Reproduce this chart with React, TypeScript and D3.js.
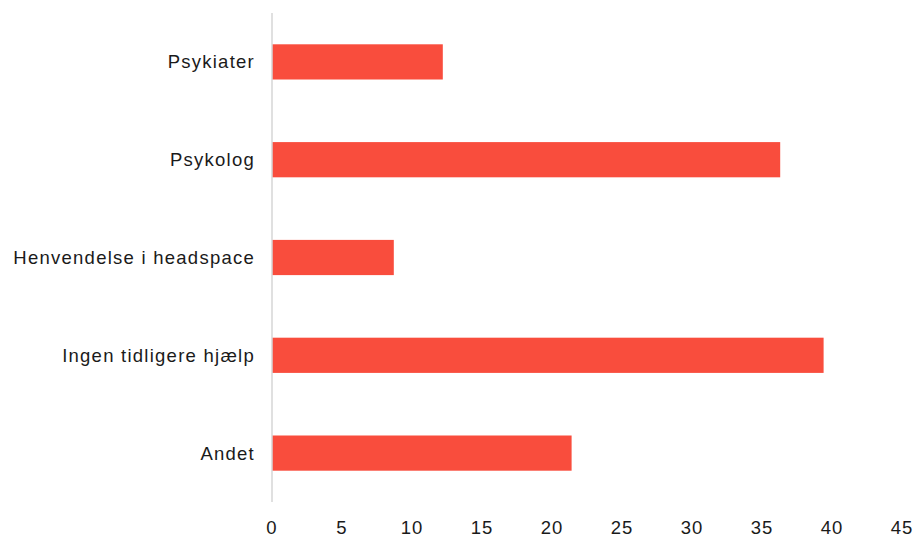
import React from "react";
import * as d3 from "d3";

const categories = ["Psykiater", "Psykolog", "Henvendelse i headspace", "Ingen tidligere hjælp", "Andet"];
const values = [12.2, 36.3, 8.7, 39.4, 21.4];
const xTicks = [0, 5, 10, 15, 20, 25, 30, 35, 40, 45];

const W = 916;
const H = 536;
const left = 272;
const right = 902;
const top = 13;
const bottom = 502;

export default function App() {
  const x = d3.scaleLinear().domain([0, 45]).range([left, right]);
  const y = d3
    .scaleBand<string>()
    .domain(categories)
    .range([top, bottom])
    .paddingInner(0.64)
    .paddingOuter(0.32);
  const font = "'Liberation Sans', Arial, sans-serif";
  return (
    <svg width={W} height={H} style={{ position: "absolute", left: 0, top: 0, background: "#fff" }}>
      {categories.map((c, i) => (
        <rect
          key={c}
          x={x(0)}
          y={y(c)!}
          width={x(values[i]) - x(0)}
          height={y.bandwidth()}
          fill="#f94d3d"
        />
      ))}
      <line x1={x(0)} x2={x(0)} y1={top} y2={bottom} stroke="#d6d6d6" strokeWidth={1.5} />
      {categories.map((c) => (
        <text
          key={c}
          x={left - 17}
          y={y(c)! + y.bandwidth() / 2}
          textAnchor="end"
          dominantBaseline="central"
          fontFamily={font}
          fontSize={18.5}
          letterSpacing={1.25}
          fill="#1a1a1a"
        >
          {c}
        </text>
      ))}
      {xTicks.map((t) => (
        <text
          key={t}
          x={x(t)}
          y={527}
          textAnchor="middle"
          dominantBaseline="central"
          fontFamily={font}
          fontSize={18.5}
          letterSpacing={1}
          fill="#1a1a1a"
        >
          {t}
        </text>
      ))}
    </svg>
  );
}
